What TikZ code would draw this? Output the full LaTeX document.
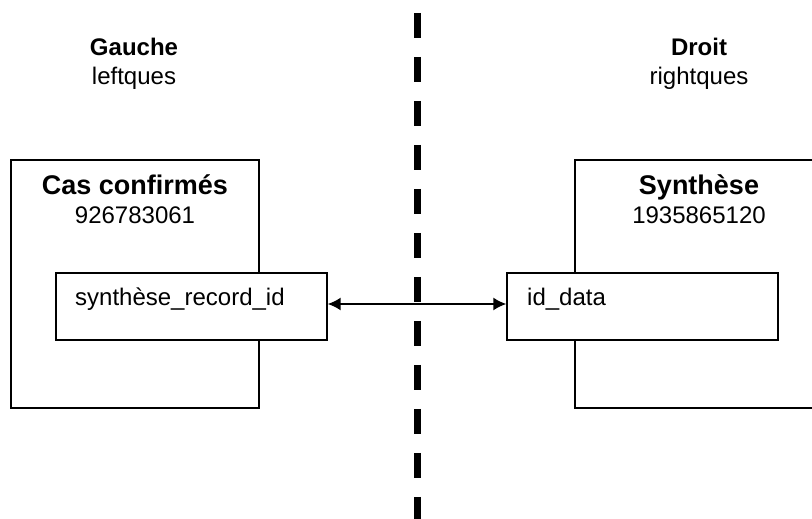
\documentclass[tikz,border=0pt]{standalone}
\usepackage{fontspec}
\setmainfont{Liberation Sans}
\usetikzlibrary{arrows.meta}
\begin{document}
\begin{tikzpicture}[x=1pt,y=1pt,
  outerbox/.style={draw,line width=1.4pt,minimum width=248pt,minimum height=248pt,inner sep=0pt},
  fieldbox/.style={draw,line width=1.4pt,fill=white,minimum width=271pt,minimum height=67pt,inner sep=0pt},
  titletxt/.style={font=\fontsize{27}{30}\selectfont\bfseries,anchor=base,inner sep=0pt},
  bigtxt/.style={font=\fontsize{24}{28}\selectfont\bfseries,anchor=base,inner sep=0pt},
  plaintxt/.style={font=\fontsize{24}{28}\selectfont,anchor=base,inner sep=0pt},
  fieldtxt/.style={font=\fontsize{24}{28}\selectfont,anchor=base west,inner sep=0pt},
  sepline/.style={line width=7pt,dash pattern=on 25pt off 19pt},
  link/.style={line width=1.6pt,{Latex[length=13pt,width=13pt]}-{Latex[length=13pt,width=13pt]}}
]
\useasboundingbox (0,0) rectangle (812,519);
\clip (0,0) rectangle (812,519);
% separator
\coordinate (septop) at (417,506);
\coordinate (sepbot) at (417,0);
\draw[sepline] (septop) -- (sepbot);
% side labels
\node[bigtxt] (gauche) at (134,463) {Gauche};
\node[plaintxt] (leftq) at (134,434) {leftques};
\node[bigtxt] (droit) at (699,463) {Droit};
\node[plaintxt] (rightq) at (699,434) {rightques};
% tables
\node[outerbox] (lefttab) at (135,235) {};
\node[titletxt] (lefttitle) at (135,324) {Cas confirmés};
\node[plaintxt] (leftnum) at (135,295) {926783061};
\node[outerbox] (righttab) at (699,235) {};
\node[titletxt] (righttitle) at (699,324) {Synthèse};
\node[plaintxt] (rightnum) at (699,295) {1935865120};
% fields
\node[fieldbox] (leftfield) at (191.5,212.5) {};
\node[fieldtxt] (leftfieldtxt) at (75,213.5) {synthèse\_record\_id};
\node[fieldbox] (rightfield) at (642.5,212.5) {};
\node[fieldtxt] (rightfieldtxt) at (527,213.5) {id\_data};
% link
\draw[link] (leftfield.east |- 0,215) -- (rightfield.west |- 0,215);
\end{tikzpicture}
\end{document}
